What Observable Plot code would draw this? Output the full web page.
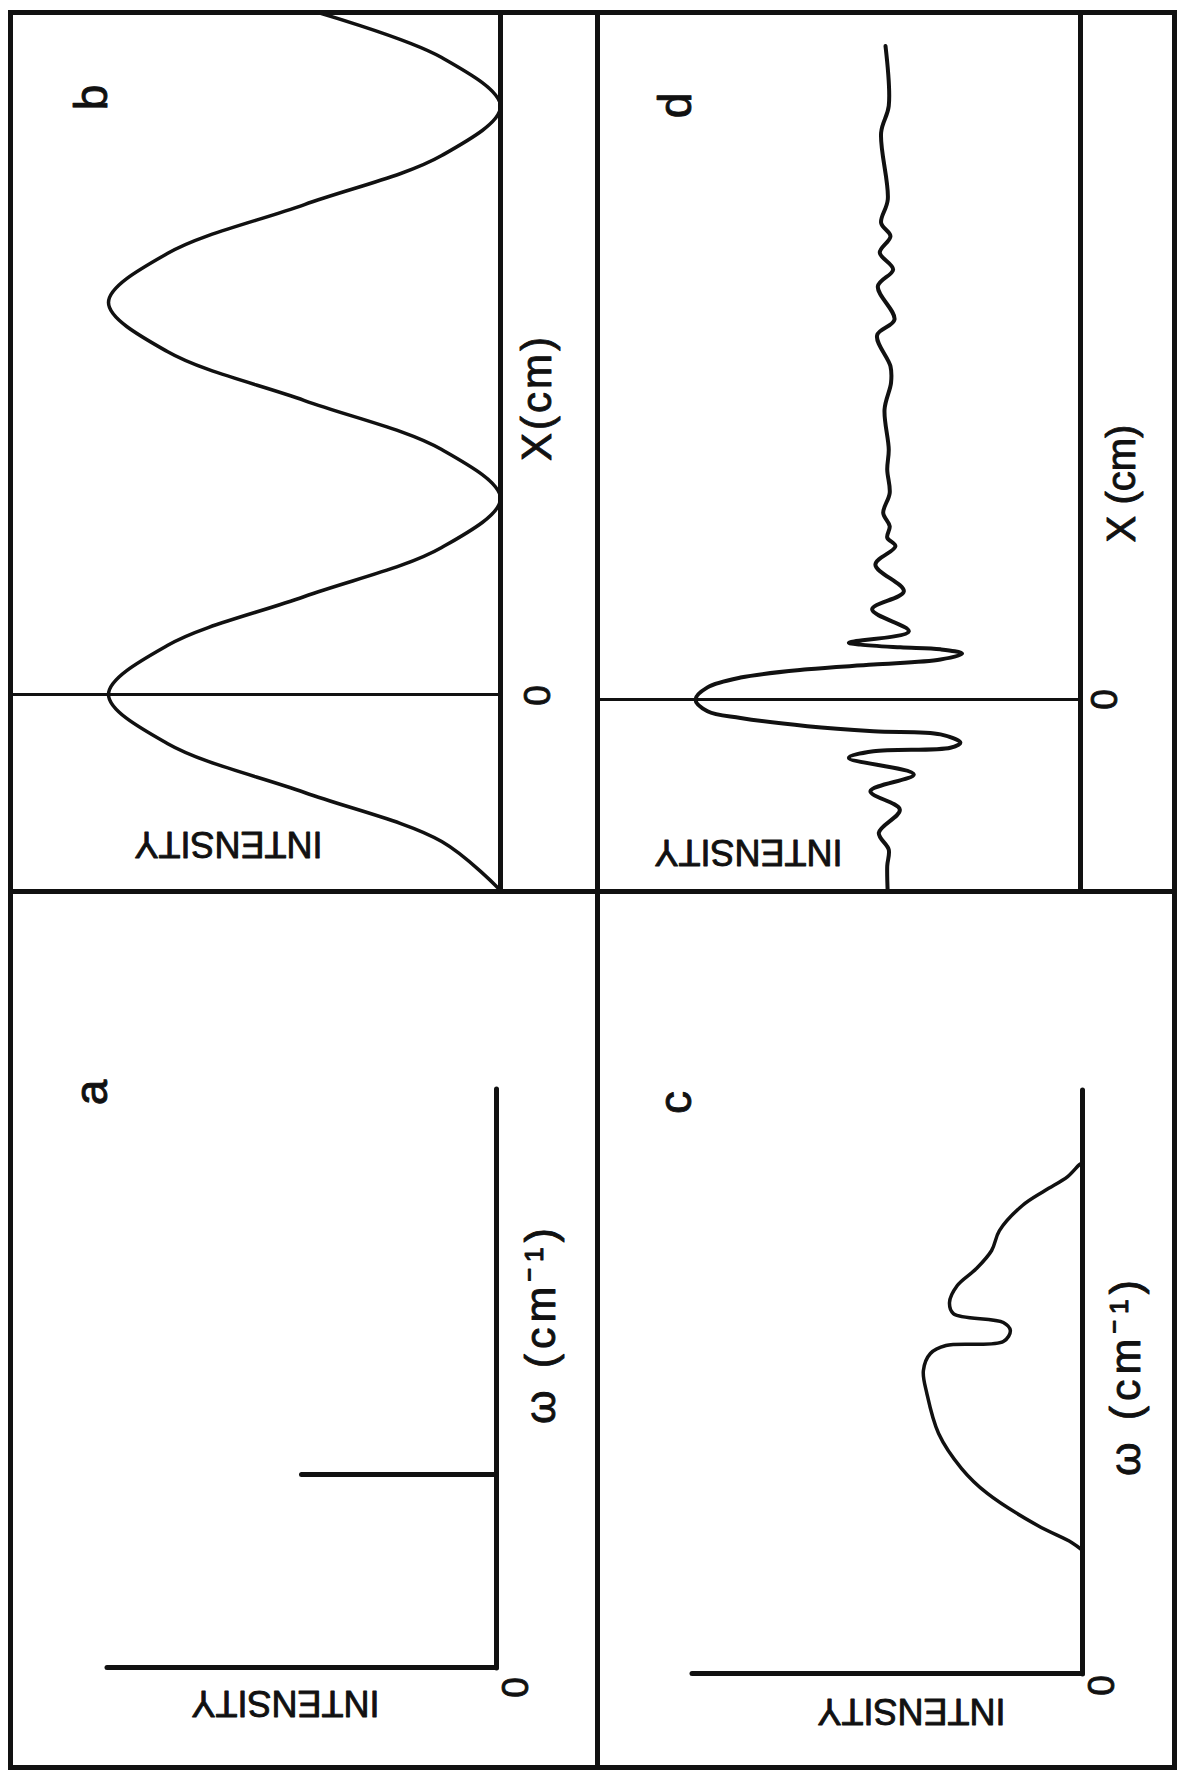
<!DOCTYPE html>
<html>
<head>
<meta charset="utf-8">
<script src="https://cdn.jsdelivr.net/npm/d3@7"></script>
<script src="https://cdn.jsdelivr.net/npm/@observablehq/plot@0.6"></script>
<style>
  html, body { margin: 0; padding: 0; background: #fff; }
  #page { position: relative; width: 1177px; height: 1776px; overflow: hidden; background: #fff; }
  /* the four-panel sheet is laid out in landscape, then turned a quarter turn counter-clockwise */
  #figure { position: absolute; left: 0; top: 0; width: 1776px; height: 1177px;
            transform-origin: 0 0; transform: translate(0, 1776px) rotate(-90deg); }
  .cell { position: absolute; }
  .line { position: absolute; background: #111; }
</style>
</head>
<body>
<div id="page"><div id="figure"></div></div>
<script>
// (a) spectrum of a single monochromatic line
const aOmega = [1.0];
const aIntensity = [0.5];

// (b) its interferogram: a pure cosine fringe, read every eighth of a fringe
const bPosition = [-0.5, -0.375, -0.25, -0.125, 0, 0.125, 0.25, 0.375, 0.5, 0.625, 0.75,
                   0.875, 1.0, 1.125, 1.25, 1.375, 1.5, 1.625, 1.75];
const bIntensity = [0, 0.15, 0.5, 0.85, 1, 0.85, 0.5, 0.15, 0, 0.15, 0.5,
                    0.85, 1, 0.85, 0.5, 0.15, 0, 0.15, 0.5];

// (c) spectrum of a broad band with a narrow dip
const cOmega = [0.632, 0.673, 0.760, 0.925, 1.053, 1.233, 1.438, 1.556, 1.644, 1.685, 1.705,
                1.762, 1.803, 1.849, 1.906, 1.993, 2.080, 2.173, 2.275, 2.404, 2.481, 2.553,
                2.614, 2.625];
const cIntensity = [0, 0.028, 0.115, 0.244, 0.310, 0.369, 0.399, 0.408, 0.390, 0.350, 0.203,
                    0.185, 0.203, 0.331, 0.341, 0.321, 0.272, 0.233, 0.213, 0.154, 0.096, 0.038,
                    0.008, 0];

// (d) interferogram of the band: centre burst and decaying ripple
const dPosition = [-0.497, -0.425, -0.383, -0.340, -0.281, -0.234, -0.191, -0.149, -0.132, -0.123,
                   -0.110, -0.089, -0.081, -0.068, -0.047, -0.030, 0, 0.031, 0.056, 0.077,
                   0.089, 0.102, 0.117, 0.128, 0.133, 0.140, 0.145, 0.174, 0.230, 0.276,
                   0.344, 0.391, 0.413, 0.442, 0.476, 0.527, 0.587, 0.638, 0.740, 0.808,
                   0.850, 0.929, 0.969, 1.054, 1.097, 1.140, 1.182, 1.216, 1.276, 1.446,
                   1.514, 1.667];
const dIntensity = [-0.007, -0.004, -0.012, 0.040, -0.070, 0.084, -0.143, 0.197, 0.068, -0.335,
                    -0.387, -0.283, 0.068, 0.414, 0.764, 0.937, 1.0, 0.937, 0.764, 0.414,
                    0.068, -0.283, -0.396, -0.283, -0.073, 0.136, 0.197, -0.117, 0.075, -0.091,
                    0.058, -0.047, -0.004, -0.017, 0.017, -0.017, -0.004, -0.012, 0.010, -0.024,
                    -0.021, 0.049, -0.042, 0.045, -0.035, 0.035, -0.021, 0.028, -0.007, 0.028,
                    -0.012, 0.005];

// Axis text
const intensityLabel = "INTENSITY";
const omegaLabel = "ω (cm⁻¹)";
const positionLabelB = "X(cm)";
const positionLabelD = "X (cm)";
const zeroTick = "0";

const FONT = "'Liberation Sans', Arial, Helvetica, sans-serif";
const INK = "#111";

const toRows = (xs, ys) => xs.map((x, i) => ({x, y: ys[i]}));

// Landscape sheet geometry (px): outer border and the two dividers
const sheet = {left: 8, right: 1763, top: 10, bottom: 1174, splitU: 884, splitV: 597};
const figure = document.getElementById("figure");

function drawSheet() {
  const w = 5;
  const add = (l, t, wd, ht) => {
    const d = document.createElement("div");
    d.className = "line";
    Object.assign(d.style, {left: l + "px", top: t + "px", width: wd + "px", height: ht + "px"});
    figure.appendChild(d);
  };
  const {left, right, top, bottom, splitU, splitV} = sheet;
  add(left - w / 2, top - w / 2, right - left + w, w);
  add(left - w / 2, bottom - w / 2, right - left + w, w);
  add(left - w / 2, top - w / 2, w, bottom - top + w);
  add(right - w / 2, top - w / 2, w, bottom - top + w);
  add(splitU - w / 2, top - w / 2, w, bottom - top + w);
  add(left - w / 2, splitV - w / 2, right - left + w, w);
}

// A label placed at sheet coordinates (u, v), relative to the panel's frame
function label(frame, text, u, v, opts = {}) {
  return Plot.text([text], {
    text: (d) => d,
    frameAnchor: "top-left",
    dx: u - frame.left,
    dy: v - frame.top,
    textAnchor: "middle",
    lineAnchor: "middle",
    fill: INK,
    stroke: INK,
    strokeWidth: 0.9,
    fontFamily: FONT,
    ...opts
  });
}

function panel(box, frame, xDomain, yDomain, marks) {
  const plot = Plot.plot({
    width: box.right - box.left,
    height: box.bottom - box.top,
    marginLeft: frame.left - box.left,
    marginRight: box.right - frame.right,
    marginTop: frame.top - box.top,
    marginBottom: box.bottom - frame.bottom,
    x: {domain: xDomain, axis: null},
    y: {domain: yDomain, axis: null},
    style: {background: "transparent", fontFamily: FONT, overflow: "visible", color: INK},
    marks
  });
  const cell = document.createElement("div");
  cell.className = "cell";
  Object.assign(cell.style, {
    left: box.left + "px", top: box.top + "px",
    width: (box.right - box.left) + "px", height: (box.bottom - box.top) + "px"
  });
  cell.appendChild(plot);
  figure.appendChild(cell);
}

drawSheet();

// Panel a — top left
{
  const box = {left: sheet.left, right: sheet.splitU, top: sheet.top, bottom: sheet.splitV};
  const frame = {left: 108, right: 687, top: 107, bottom: 496};
  panel(box, frame, [0, 3], [0, 1], [
    Plot.ruleY([0], {stroke: INK, strokeWidth: 5, strokeLinecap: "round"}),
    Plot.ruleX([0], {stroke: INK, strokeWidth: 5, strokeLinecap: "round"}),
    Plot.ruleX(toRows(aOmega, aIntensity), {x: "x", y1: 0, y2: "y", stroke: INK, strokeWidth: 5, strokeLinecap: "round"}),
    label(frame, zeroTick, 88, 516, {fontSize: 37}),
    label(frame, omegaLabel, 452, 541, {fontSize: 43}),
    label(frame, intensityLabel, 73, 285, {fontSize: 36, rotate: -90}),
    label(frame, "a", 683, 92, {fontSize: 46})
  ]);
}

// Panel b — top right
{
  const box = {left: sheet.splitU, right: sheet.right, top: sheet.top, bottom: sheet.splitV};
  const frame = {left: sheet.splitU, right: sheet.right, top: sheet.top, bottom: 500};
  panel(box, frame, [-0.5026, 1.740], [0, 1.25], [
    Plot.ruleY([0], {stroke: INK, strokeWidth: 5}),
    Plot.ruleX([0], {stroke: INK, strokeWidth: 3}),
    Plot.line(toRows(bPosition, bIntensity), {x: "x", y: "y", curve: "catmull-rom", stroke: INK, strokeWidth: 3.5, clip: true}),
    label(frame, zeroTick, 1080, 538, {fontSize: 37}),
    label(frame, positionLabelB, 1378, 537, {fontSize: 42}),
    label(frame, intensityLabel, 932, 228, {fontSize: 36, rotate: -90}),
    label(frame, "b", 1678, 92, {fontSize: 46})
  ]);
}

// Panel c — bottom left
{
  const box = {left: sheet.left, right: sheet.splitU, top: sheet.splitV, bottom: sheet.bottom};
  const frame = {left: 102, right: 686, top: 692, bottom: 1082};
  panel(box, frame, [0, 3], [0, 1], [
    Plot.ruleY([0], {stroke: INK, strokeWidth: 5, strokeLinecap: "round"}),
    Plot.ruleX([0], {stroke: INK, strokeWidth: 5, strokeLinecap: "round"}),
    Plot.line(toRows(cOmega, cIntensity), {x: "x", y: "y", curve: "catmull-rom", stroke: INK, strokeWidth: 3.5}),
    label(frame, zeroTick, 90, 1102, {fontSize: 37}),
    label(frame, omegaLabel, 400, 1126, {fontSize: 43}),
    label(frame, intensityLabel, 65, 911, {fontSize: 36, rotate: -90}),
    label(frame, "c", 673, 676, {fontSize: 46})
  ]);
}

// Panel d — bottom right
{
  const box = {left: sheet.splitU, right: sheet.right, top: sheet.splitV, bottom: sheet.bottom};
  const frame = {left: sheet.splitU, right: sheet.right, top: sheet.splitV, bottom: 1080};
  panel(box, frame, [-0.4898, 1.7526], [-1.016, 1.513], [
    Plot.frame({stroke: INK, strokeWidth: 5}),
    Plot.ruleX([0], {stroke: INK, strokeWidth: 3}),
    Plot.line(toRows(dPosition, dIntensity), {x: "x", y: "y", curve: "catmull-rom", stroke: INK, strokeWidth: 4, clip: true}),
    label(frame, zeroTick, 1076, 1105, {fontSize: 37}),
    label(frame, positionLabelD, 1292, 1122, {fontSize: 40}),
    label(frame, intensityLabel, 924, 748, {fontSize: 36, rotate: -90}),
    label(frame, "d", 1670, 676, {fontSize: 46})
  ]);
}

// Wider tracking on the frequency and path-difference labels, as lettered on the sheet
d3.select(figure).selectAll("text")
  .filter(function () { return this.textContent === omegaLabel; })
  .style("letter-spacing", "5px");
d3.select(figure).selectAll("text")
  .filter(function () { return this.textContent === positionLabelB; })
  .style("letter-spacing", "3px");
</script>
</body>
</html>
